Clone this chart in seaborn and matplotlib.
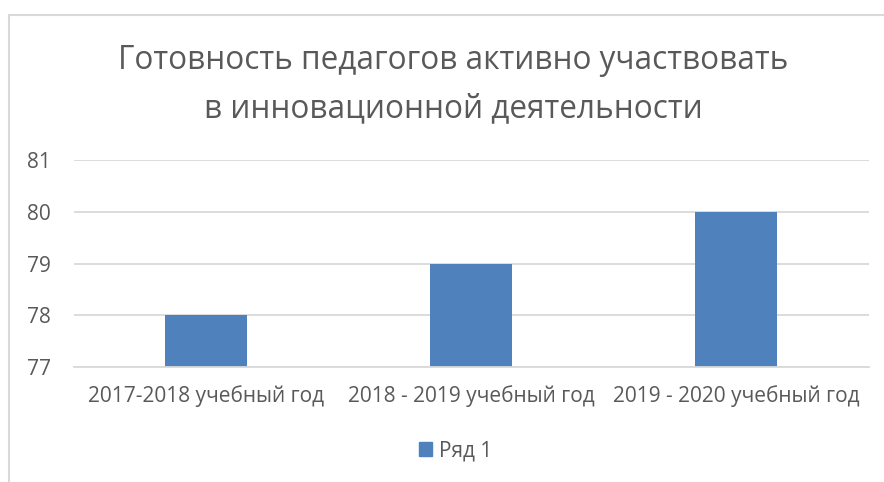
import matplotlib
matplotlib.use("Agg")
import matplotlib.pyplot as plt
import matplotlib.patches as mpatches
import seaborn as sns
import pandas as pd

# data
categories = ["2017-2018 учебный год", "2018 - 2019 учебный год", "2019 - 2020 учебный год"]
values = [78, 79, 80]
series_name = "Ряд 1"
title = "Готовность педагогов активно участвовать\nв инновационной деятельности"
y_ticks = [77, 78, 79, 80, 81]

TEXT = "#595959"
GRID = "#D9D9D9"
BAR = "#4F81BD"

sns.set_theme(style="white")
plt.rcParams["font.family"] = ["Open Sans", "DejaVu Sans"]

W, H = 884, 482
fig = plt.figure(figsize=(W / 100, H / 100), dpi=100)
ax = fig.add_axes([73.5 / W, 1 - 367 / H, 795 / W, 207 / H])

df = pd.DataFrame({"cat": categories, "val": values})
sns.barplot(data=df, x="cat", y="val", color=BAR, saturation=1, width=0.31,
            ax=ax, edgecolor="none")

ax.set_ylim(77, 81)
ax.set_yticks(y_ticks)
ax.set_xlim(-0.5, len(categories) - 0.5)
ax.set_xlabel("")
ax.set_ylabel("")
ax.yaxis.grid(True, color=GRID, linewidth=1.3)
ax.set_axisbelow(True)
for s in ["top", "right", "left"]:
    ax.spines[s].set_visible(False)
ax.spines["bottom"].set_color(GRID)
ax.spines["bottom"].set_linewidth(1.3)
ax.tick_params(axis="both", length=0, colors=TEXT, labelsize=15)
ax.tick_params(axis="y", pad=16.5)
ax.tick_params(axis="x", pad=13)

fig.text(453 / W, 1 - 84.5 / H, title, ha="center", va="center", fontsize=22.7,
         color=TEXT, linespacing=1.63)

handle = mpatches.Patch(color=BAR, label=series_name)
fig.legend(handles=[handle], loc="center", bbox_to_anchor=(456 / W, 1 - 451 / H),
           frameon=False, fontsize=15, labelcolor=TEXT, handlelength=0.62,
           handleheight=0.62, handletextpad=0.35)

# chart frame (light grey border, cut off on the right and bottom)
frame = mpatches.Rectangle((9 / W, -0.1), 1.2, 1 - 15 / H + 0.1, transform=fig.transFigure,
                           fill=False, edgecolor=GRID, linewidth=1.5)
fig.patches.append(frame)

fig.savefig("out.png", dpi=100)
